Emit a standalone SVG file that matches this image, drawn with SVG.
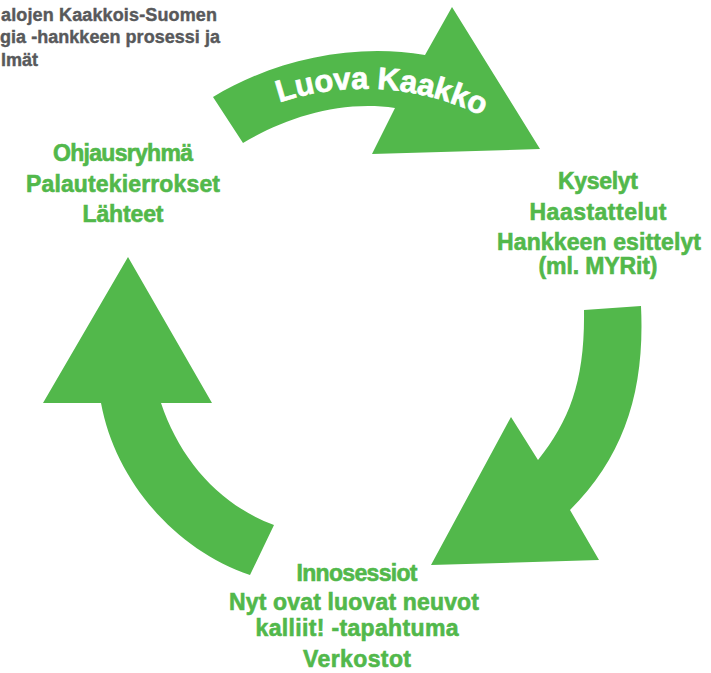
<svg xmlns="http://www.w3.org/2000/svg" width="711" height="673" viewBox="0 0 711 673">
<style>
.arrow{fill:#52b84b;stroke:none}
.lbl{font-family:"Liberation Sans",Arial,sans-serif;font-weight:bold;font-size:23px;fill:#52b84b;stroke:#52b84b;stroke-width:0.6;text-anchor:middle}
.title{font-family:"Liberation Sans",Arial,sans-serif;font-weight:bold;font-size:18px;fill:#58595b;stroke:#58595b;stroke-width:0.4}
.arc{font-family:"Liberation Sans",Arial,sans-serif;font-weight:bold;font-size:31px;fill:#ffffff;stroke:#ffffff;stroke-width:0.7}
</style>
<defs>
<path id="arcPath" d="M270,106 A267,267 0 0 1 490,120"/>
</defs>
<rect x="0" y="0" width="711" height="673" fill="#ffffff"/>
<g id="title">
<text class="title" x="1" y="21" textLength="216">alojen Kaakkois-Suomen</text>
<text class="title" x="0" y="43" textLength="220">gia -hankkeen prosessi ja</text>
<text class="title" x="1" y="66">lmät</text>
</g>
<g id="connectors">
<path class="arrow" d="M213,97 C270,62 350,42 425,55 L452,7 L540,149 L372,154 L395,108 C340,100 285,118 243,143 Z"/>
<path class="arrow" d="M641,306 C645,390 625,455 570,510 L599,560 L431,565 L511,417 L538,460 C570,420 585,380 584,310 Z"/>
<path class="arrow" d="M250,575 C175,550 115,480 101,403 L43,403 L128,257 L212,403 L161,403 C180,460 220,505 274,525 Z"/>
<text class="arc"><textPath href="#arcPath" startOffset="10" textLength="208">Luova Kaakko</textPath></text>
</g>
<g id="node-left">
<text class="lbl" x="123" y="161" textLength="140">Ohjausryhmä</text>
<text class="lbl" x="123" y="192" textLength="194">Palautekierrokset</text>
<text class="lbl" x="123" y="222" textLength="81">Lähteet</text>
</g>
<g id="node-right">
<text class="lbl" x="598" y="189" textLength="80">Kyselyt</text>
<text class="lbl" x="598" y="220" textLength="137">Haastattelut</text>
<text class="lbl" x="599" y="250" textLength="204">Hankkeen esittelyt</text>
<text class="lbl" x="598" y="274" textLength="119">(ml. MYRit)</text>
</g>
<g id="node-bottom">
<text class="lbl" x="357" y="581" textLength="121">Innosessiot</text>
<text class="lbl" x="354" y="610" textLength="250">Nyt ovat luovat neuvot</text>
<text class="lbl" x="357" y="636" textLength="203">kalliit! -tapahtuma</text>
<text class="lbl" x="357" y="667" textLength="108">Verkostot</text>
</g>
</svg>
